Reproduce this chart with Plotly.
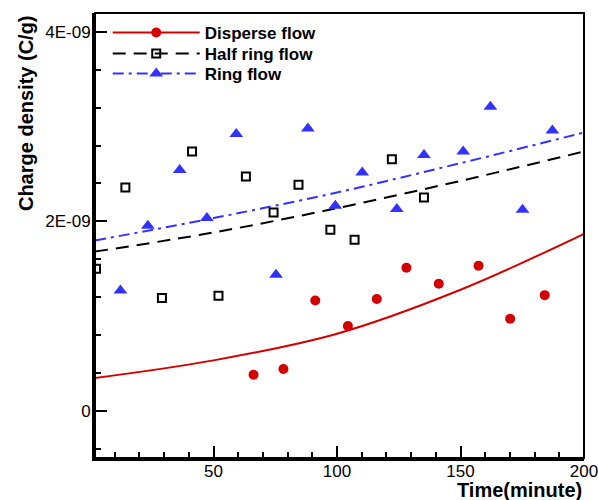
import plotly.graph_objects as go

# ---- data ----
disperse_t = [66.2, 78.3, 91.2, 104.4, 116.1, 128.1, 141.2, 157.3, 170.1, 184.1]
disperse_q = [0.38, 0.44, 1.164, 0.894, 1.18, 1.51, 1.34, 1.53, 0.97, 1.22]  # x1e-9

half_t = [2.4, 14.3, 29.1, 41.3, 52.0, 63.1, 74.3, 84.4, 97.3, 107.1, 122.2, 135.2]
half_q = [1.50, 2.357, 1.19, 2.737, 1.214, 2.473, 2.093, 2.385, 1.91, 1.805, 2.656, 2.251]

ring_t = [12.3, 23.4, 36.3, 47.3, 59.2, 75.3, 88.2, 99.3, 110.2, 124.2, 135.2, 151.1, 162.1, 175.1, 187.2]
ring_q = [1.27, 1.952, 2.543, 2.034, 2.923, 1.435, 2.98, 2.163, 2.515, 2.129, 2.699, 2.737, 3.21, 2.121, 2.958]

fit_t = [2, 50, 100, 150, 200]
disperse_fit = [0.345, 0.531, 0.813, 1.277, 1.868]
half_fit = [1.68, 1.882, 2.139, 2.427, 2.737]
ring_fit = [1.797, 2.034, 2.304, 2.614, 2.937]

names = ["Disperse flow", "Half ring flow", "Ring flow"]
x_ticks = [50, 100, 150, 200]
y_tickvals = [0, 2e-9, 4e-9]
y_ticktext = ["0", "2E-09", "4E-09"]

SCALE = 1e-9
RED = "rgb(212,0,0)"
BLUE = "rgb(50,50,255)"
BLACK = "black"

def sc(v):
    return [a * SCALE for a in v]

fig = go.Figure()

# fitted curves
fig.add_trace(go.Scatter(x=fit_t, y=sc(disperse_fit), mode="lines", line_shape="spline",
                         line=dict(color=RED, width=2), showlegend=False))
fig.add_trace(go.Scatter(x=fit_t, y=sc(half_fit), mode="lines", line_shape="spline",
                         line=dict(color=BLACK, width=2, dash="13px,8px"), showlegend=False))
fig.add_trace(go.Scatter(x=fit_t, y=sc(ring_fit), mode="lines", line_shape="spline",
                         line=dict(color=BLUE, width=2, dash="11px,5px,3px,5px"), showlegend=False))

# measured points
fig.add_trace(go.Scatter(x=disperse_t, y=sc(disperse_q), mode="markers",
                         marker=dict(symbol="circle", size=10, color=RED), showlegend=False))
fig.add_trace(go.Scatter(x=half_t, y=sc(half_q), mode="markers",
                         marker=dict(symbol="square-open", size=8, color=BLACK,
                                     line=dict(width=2, color=BLACK)), showlegend=False))
fig.add_trace(go.Scatter(x=ring_t, y=sc(ring_q), mode="markers",
                         marker=dict(symbol="triangle-up", size=12, color=BLUE), showlegend=False))

# legend entries (line + marker), one legend each for exact row placement
fig.add_trace(go.Scatter(x=[None], y=[None], mode="lines+markers", name=names[0],
                         legend="legend",
                         line=dict(color=RED, width=2),
                         marker=dict(symbol="circle", size=10, color=RED)))
fig.add_trace(go.Scatter(x=[None], y=[None], mode="lines+markers", name=names[1],
                         legend="legend2",
                         line=dict(color=BLACK, width=2, dash="13px,8px"),
                         marker=dict(symbol="square-open", size=8, color=BLACK,
                                     line=dict(width=2, color=BLACK))))
fig.add_trace(go.Scatter(x=[None], y=[None], mode="lines+markers", name=names[2],
                         legend="legend3",
                         line=dict(color=BLUE, width=2, dash="11px,5px,3px,5px"),
                         marker=dict(symbol="triangle-up", size=12, color=BLUE)))

FONT = "Arial, Liberation Sans, sans-serif"

def leg(yc):
    return dict(x=0.026, y=yc, xanchor="left", yanchor="middle",
                bgcolor="rgba(0,0,0,0)", itemwidth=87,
                font=dict(family=FONT, size=17, color="black", weight="bold"))

fig.update_layout(
    width=598, height=500,
    margin=dict(l=95, r=14, t=13, b=42, autoexpand=False),
    plot_bgcolor="white", paper_bgcolor="white",
    font=dict(family=FONT, size=17, color="black"),
    legend=leg(0.955),
    legend2=leg(0.908),
    legend3=leg(0.863),
    xaxis=dict(range=[2, 200.001], tickvals=x_ticks, ticks="inside", ticklen=12, tickwidth=2,
               tickcolor="black", showline=True, linewidth=3, linecolor="black",
               showgrid=False, zeroline=False, ticklabelstandoff=-4,
               ticklabeloverflow="allow",
               minor=dict(dtick=10, tick0=0, ticks="inside", ticklen=6, tickwidth=1.5,
                          tickcolor="black", showgrid=False),
               tickfont=dict(size=17)),
    yaxis=dict(range=[-0.5e-9, 4.2e-9], tickvals=y_tickvals, ticktext=y_ticktext,
               ticks="inside", ticklen=12, tickwidth=2, tickcolor="black",
               showline=True, linewidth=3, linecolor="black",
               showgrid=False, zeroline=False, ticklabelstandoff=-2,
               minor=dict(dtick=0.4e-9, tick0=0, ticks="inside", ticklen=6, tickwidth=1.5,
                          tickcolor="black", showgrid=False),
               tickfont=dict(size=17)),
    shapes=[dict(type="rect", xref="paper", yref="paper", x0=0, x1=1, y0=0, y1=1,
                 line=dict(color="black", width=2))],
    annotations=[
        dict(text="<b>Charge density (C/g)</b>", xref="paper", yref="paper",
             x=-0.141, y=1.0, xanchor="center", yanchor="top", textangle=-90,
             showarrow=False, font=dict(family=FONT, size=20)),
        dict(text="<b>Time(minute)</b>", xref="paper", yref="paper",
             x=1.0, y=-0.071, xanchor="right", yanchor="middle",
             showarrow=False, font=dict(family=FONT, size=20)),
    ],
)

fig.write_html(
    "out.html",
    config={"displayModeBar": False},
    post_script="document.body.style.margin='0';document.body.style.overflow='hidden';",
)
